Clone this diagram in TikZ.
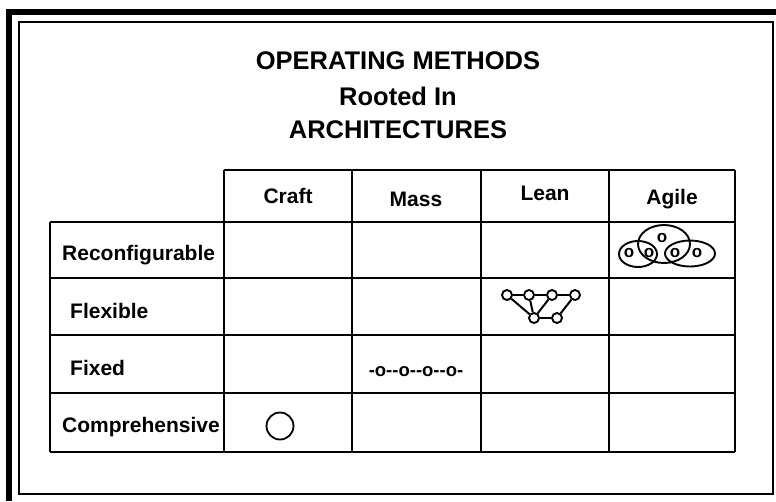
\documentclass[tikz,border=0pt]{standalone}
\usepackage{fontspec}
\setmainfont{Liberation Sans}
\usetikzlibrary{shapes.geometric}
\begin{document}
\begin{tikzpicture}[x=1pt,y=-1pt,
  gridline/.style={line width=1.9pt},
  ttl/.style={font=\fontsize{25.5}{30}\selectfont\bfseries, inner sep=0pt},
  lbl/.style={font=\fontsize{21}{25}\selectfont\bfseries, inner sep=0pt, anchor=base},
  rowlbl/.style={font=\fontsize{21}{25}\selectfont\bfseries, inner sep=0pt, anchor=base west},
  small/.style={font=\fontsize{17}{20}\selectfont\bfseries, inner sep=0pt},
  netdot/.style={circle, draw, line width=1.9pt, minimum size=10pt, inner sep=0pt, fill=white},
  netline/.style={line width=2pt},
  blob/.style={ellipse, draw, line width=1.9pt, inner sep=0pt}]
\useasboundingbox (0,0) rectangle (776,501);
% frames
\draw[line width=6pt] (9,501) -- (9,12) -- (776,12);
\draw[line width=1.8pt] (19,22) rectangle (773,494);
% title
\node[ttl] (t1) at (398,61) {OPERATING METHODS};
\node[ttl] (t2) at (398,96) {Rooted In};
\node[ttl] (t3) at (398,130) {ARCHITECTURES};
% table
\draw[gridline] (224,170) -- (735,170);
\foreach \y in {222,278,335,393,452} \draw[gridline] (50,\y) -- (735,\y);
\draw[gridline] (50,222) -- (50,452);
\foreach \x in {224,352,481,609,735} \draw[gridline] (\x,170) -- (\x,452);
% headers
\node[lbl] (craft) at (288,203) {Craft};
\node[lbl] (mass) at (416,206) {Mass};
\node[lbl] (lean) at (545,200) {Lean};
\node[lbl] (agile) at (672,204) {Agile};
% rows
\node[rowlbl] (r1) at (62,260) {Reconfigurable};
\node[rowlbl] (r2) at (70,318) {Flexible};
\node[rowlbl] (r3) at (70,375) {Fixed};
\node[rowlbl] (r4) at (62,432) {Comprehensive};
% craft
\node[circle, draw, line width=1.8pt, minimum size=27pt, inner sep=0pt] (c) at (280,426) {};
% mass
\node[font=\fontsize{18.5}{20}\selectfont\bfseries, inner sep=0pt] (m) at (416,372) {-o-{}-o-{}-o-{}-o-};
% lean network
\node[netdot] (n1) at (507,295) {};
\node[netdot] (n2) at (529,295) {};
\node[netdot] (n3) at (552,295) {};
\node[netdot] (n4) at (575,295) {};
\node[netdot] (n5) at (534,318) {};
\node[netdot] (n6) at (557,318) {};
\draw[netline] (n1) -- (n2);
\draw[netline] (n2) -- (n3);
\draw[netline] (n3) -- (n4);
\draw[netline] (n5) -- (n6);
\draw[netline] (n1) -- (n5);
\draw[netline] (n2) -- (n5);
\draw[netline] (n3) -- (n5);
\draw[netline] (n4) -- (n6);
% agile
\node[blob, minimum width=38pt, minimum height=26pt] (e1) at (638,254) {};
\node[blob, minimum width=52pt, minimum height=38pt] (e2) at (664,244) {};
\node[blob, minimum width=50pt, minimum height=26pt] (e3) at (690,253.5) {};
\node[small] (o1) at (629,253) {o};
\node[small] (o2) at (649,253) {o};
\node[small] (o3) at (662,238) {o};
\node[small] (o4) at (675,253) {o};
\node[small] (o5) at (697,253) {o};
\end{tikzpicture}
\end{document}
